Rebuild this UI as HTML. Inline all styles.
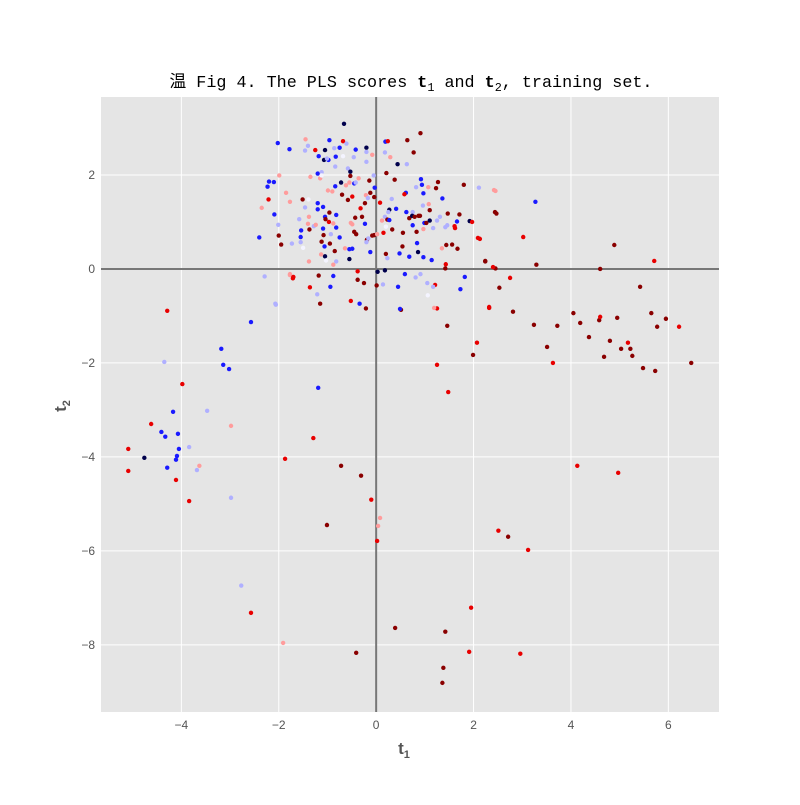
<!DOCTYPE html>
<html><head><meta charset="utf-8"><style>
html,body{margin:0;padding:0;background:#fff}
svg text{font-family:"Liberation Sans","WenQuanYi Zen Hei",sans-serif}
</style></head><body>
<svg id="chart" width="800" height="800" viewBox="0 0 800 800" xmlns="http://www.w3.org/2000/svg">
<text x="411" y="87" text-anchor="middle" font-size="17" fill="#000" style="font-family:'Liberation Mono','WenQuanYi Zen Hei',monospace" textLength="483" lengthAdjust="spacingAndGlyphs">温 Fig 4. The PLS scores <tspan font-weight="bold">t</tspan><tspan font-size="12" dy="4">1</tspan><tspan dy="-4"> and </tspan><tspan font-weight="bold">t</tspan><tspan font-size="12" dy="4">2</tspan><tspan dy="-4">, training set.</tspan></text>
<rect x="101" y="97" width="618" height="615" fill="#e5e5e5"/>
<g id="grid"></g>
<g id="axes0"></g>
<g id="pts"></g>
<g id="ticks"></g>
<text x="404" y="754" text-anchor="middle" font-size="17" font-weight="bold" fill="#555">t<tspan font-size="11" dy="4">1</tspan></text>
<text transform="translate(66,406) rotate(-90)" text-anchor="middle" font-size="17" font-weight="bold" fill="#555">t<tspan font-size="11" dy="4">2</tspan></text>
</svg>
<script>
const xTicks=[-4,-2,0,2,4,6];
const yTicks=[2,0,-2,-4,-6,-8];
const clusterX=[-0.66,-2.02,-1.78,-1.45,-0.96,-0.68,-0.75,-0.86,-0.61,-1.05,-1.25,-1.40,-1.46,-1.18,-1.07,-0.98,-1.01,-0.83,-0.68,-0.42,-0.20,-0.20,0.19,0.24,0.64,0.91,0.77,-0.08,0.18,0.29,0.44,0.63,-0.20,-0.46,-0.84,-0.58,-0.53,-0.53,-1.20,-1.12,-1.15,-1.12,-1.35,-1.99,-2.20,-2.10,-2.23,-0.72,-0.55,-0.62,-0.45,-0.42,-0.36,-0.14,-0.05,0.21,0.38,0.92,1.27,0.82,0.94,1.07,1.23,1.80,2.11,2.45,-0.03,-0.12,-0.04,-0.21,-0.17,-0.23,-0.32,-0.49,-0.58,-0.70,-0.84,-0.90,-0.99,-1.51,-1.39,-1.85,-2.21,-1.77,-2.35,-2.09,-2.01,-2.40,-2.00,-1.95,-1.73,-1.58,-1.54,-1.55,-1.55,-1.50,-1.46,-1.20,-1.09,-1.20,-1.05,-0.96,-1.04,-0.82,-0.82,-0.88,-0.97,-1.38,-1.40,-1.37,-1.28,-1.24,-1.09,-1.08,-1.12,-1.06,-0.93,-0.95,-0.75,-0.85,-1.05,-1.03,-1.13,-1.38,-0.88,-0.82,-0.64,-0.55,-0.49,-0.55,-0.43,-0.29,-0.23,-0.52,-0.49,-0.45,-0.41,-0.19,-0.16,-0.20,-0.08,-0.04,0.02,-0.12,0.08,0.32,0.41,0.27,0.25,0.18,0.23,0.27,0.12,0.20,0.33,0.15,0.55,0.54,0.48,0.20,0.23,0.61,0.58,0.97,1.08,0.96,1.10,0.75,0.62,0.68,0.74,0.79,0.87,0.90,0.99,1.03,1.10,1.25,1.31,1.17,0.97,0.75,0.83,0.84,0.68,0.86,0.97,1.14,1.36,1.47,1.71,1.66,1.92,1.97,1.61,1.62,1.46,1.42,1.44,1.56,1.67,1.35,1.42,1.43,2.13,2.24,2.47,2.45,0.03,0.18,0.59,0.91,0.81,1.21,1.17,1.73,1.82,1.06,0.45,0.14,0.01,-0.38,-0.38,-0.25,-1.18,-0.88,-0.94,-1.36,-1.77,-1.71,-2.29,-1.21,-0.52,-0.34,-1.15,-2.06,-0.21,0.51,1.25,2.32];
const clusterY=[3.09,2.68,2.55,2.76,2.74,2.72,2.58,2.57,2.67,2.53,2.53,2.62,2.52,2.40,2.32,2.32,2.35,2.39,2.40,2.54,2.58,2.49,2.71,2.72,2.74,2.89,2.48,2.43,2.48,2.38,2.23,2.23,2.28,2.38,2.18,2.14,2.07,1.98,2.03,2.06,1.93,1.99,1.96,1.99,1.86,1.85,1.75,1.84,1.84,1.78,1.82,1.84,1.93,1.88,1.99,2.04,1.90,1.91,1.85,1.74,1.79,1.74,1.72,1.79,1.73,1.66,1.73,1.62,1.53,1.57,1.51,1.40,1.29,1.54,1.47,1.58,1.76,1.65,1.67,1.48,1.48,1.62,1.48,1.43,1.30,1.16,0.94,0.67,0.71,0.52,0.54,1.06,0.82,0.68,0.57,0.45,1.31,1.40,1.32,1.27,1.11,1.20,1.06,1.15,0.88,0.97,1.00,1.11,0.96,0.84,0.91,0.94,0.86,0.72,0.58,0.48,0.74,0.54,0.67,0.38,0.27,0.18,0.31,0.16,0.09,0.16,0.44,0.42,0.43,0.21,1.09,1.11,0.96,0.98,0.95,0.79,0.74,0.62,0.65,0.57,0.71,0.72,0.74,0.36,1.41,1.49,1.28,1.26,1.21,1.11,1.05,1.04,1.03,0.90,0.84,0.77,0.77,0.48,0.33,0.32,0.23,1.62,1.59,1.61,1.38,1.35,1.25,1.21,1.21,1.08,1.13,1.11,1.13,1.13,0.98,0.98,1.03,1.03,1.11,0.87,0.85,0.93,0.79,0.55,0.26,0.36,0.25,0.19,1.50,1.18,1.16,1.01,1.02,1.00,0.91,0.87,0.93,0.89,0.51,0.52,0.43,0.44,0.01,0.10,0.64,0.16,1.18,0.01,-0.06,-0.03,-0.11,-0.11,-0.18,-0.34,-0.38,-0.43,-0.17,-0.56,-0.38,-0.33,-0.35,-0.05,-0.23,-0.30,-0.14,-0.15,-0.38,-0.39,-0.13,-0.20,-0.16,-0.54,-0.68,-0.74,-0.74,-0.76,-0.84,-0.87,-0.84,-0.83];
// colour codes: -3 dark blue, -2 blue, -1 light blue, 0 white, 1 pink, 2 red, 3 dark red
const clusterC=[-3,-2,-2,1,-2,2,-2,-1,-1,-3,2,-1,-1,-2,-3,-2,-1,-2,0,-2,-3,-1,-2,2,3,3,3,1,-1,1,-3,-1,-1,-1,-1,-1,-3,3,-2,-1,1,0,1,1,-2,-2,-2,-3,1,1,-2,-1,1,3,-1,3,3,-2,3,-1,-2,1,3,3,-1,1,-2,3,3,1,-1,3,2,2,3,3,-2,1,1,3,0,1,2,1,1,-2,-1,-2,3,3,-1,-1,-2,-2,-1,0,-1,-2,-2,-2,-2,3,3,-2,-2,1,2,1,1,3,-1,1,-2,3,3,-2,-1,3,-2,3,-3,0,1,1,1,-1,1,-2,-2,-3,3,3,-2,1,1,3,3,3,-1,-1,3,3,1,-2,2,-1,-2,-3,-1,-1,3,-2,1,0,3,2,3,3,-2,3,-1,-2,2,-2,1,-1,3,-1,-2,3,-3,3,3,3,-2,3,-3,-1,-1,-1,1,-2,3,-2,-2,-3,-2,-2,-2,3,3,-2,-3,2,2,2,-1,-1,3,3,3,1,3,2,2,3,3,3,-3,-3,-2,-1,-1,2,-1,-2,-2,0,-2,-1,3,2,3,3,3,-2,-2,2,1,2,-1,-1,2,-2,3,-1,3,3,2,2];
const outX=[-4.29,-4.35,-3.18,-3.14,-3.02,-3.98,-4.17,-3.47,-4.62,-4.41,-4.33,-4.07,-3.84,-4.05,-4.09,-4.11,-4.76,-5.09,-5.09,-4.29,-3.63,-3.68,-4.11,-3.84,-2.98,-2.98,-2.77,-2.57,-1.91,-2.57,-2.07,-1.77,-1.70,-1.87,-1.19,-1.29,-0.72,-0.31,-0.10,0.08,0.04,0.02,-1.01,-0.41,0.39,1.42,1.38,1.36,1.95,1.91,2.96,2.51,2.71,3.12,0.49,1.25,1.46,1.48,2.07,1.99,2.32,2.53,2.81,3.24,3.51,3.63,3.72,4.05,4.19,4.37,4.58,4.60,4.68,4.80,4.95,5.03,5.17,5.22,5.26,5.42,5.48,5.65,5.73,5.77,5.95,6.22,6.47,5.71,4.60,4.89,4.13,4.97,3.29,3.27,3.02,2.24,2.40,2.75,2.09,2.44,2.42,1.19,1.05];
const outY=[-0.89,-1.98,-1.70,-2.04,-2.13,-2.45,-3.04,-3.02,-3.30,-3.47,-3.57,-3.51,-3.79,-3.83,-3.98,-4.06,-4.02,-3.83,-4.30,-4.23,-4.19,-4.28,-4.49,-4.94,-3.34,-4.87,-6.74,-7.32,-7.96,-1.13,-0.74,-0.11,-0.17,-4.04,-2.53,-3.60,-4.19,-4.40,-4.91,-5.30,-5.47,-5.79,-5.45,-8.17,-7.64,-7.72,-8.49,-8.81,-7.21,-8.15,-8.19,-5.57,-5.70,-5.98,-0.85,-2.04,-1.21,-2.62,-1.57,-1.83,-0.81,-0.40,-0.91,-1.19,-1.66,-2.00,-1.21,-0.94,-1.15,-1.45,-1.09,-1.02,-1.87,-1.53,-1.04,-1.70,-1.57,-1.70,-1.85,-0.38,-2.11,-0.94,-2.17,-1.23,-1.06,-1.23,-2.00,0.17,0.00,0.51,-4.19,-4.34,0.09,1.43,0.68,0.17,0.04,-0.19,0.66,1.21,1.68,-0.83,-0.30];
const outC=[2,-1,-2,-2,-2,2,-2,-1,2,-2,-2,-2,-1,-2,-2,-2,-3,2,2,-2,1,-1,2,2,1,-1,-1,2,1,-2,-1,1,2,2,-2,2,3,3,2,1,1,2,3,3,3,3,3,3,2,2,2,2,3,2,-2,2,3,2,2,3,2,3,3,3,3,2,3,3,3,3,3,2,3,3,3,3,2,3,3,3,3,3,3,3,3,2,3,2,3,3,2,2,3,-2,2,3,2,2,2,3,1,1,-1];
const palette={"-3":"#00004c","-2":"#1a1aff","-1":"#b0b0ff","0":"#f4f4ff","1":"#ff9c9c","2":"#e80000","3":"#8a0000"};
const X0=101,X1=719,Y0=97,Y1=712,xmin=-5.65,xmax=7.04,ymin=-9.43,ymax=3.66;
const sx=v=>X0+(v-xmin)/(xmax-xmin)*(X1-X0);
const sy=v=>Y1-(v-ymin)/(ymax-ymin)*(Y1-Y0);
const NS="http://www.w3.org/2000/svg";
const grid=document.getElementById('grid'),ticks=document.getElementById('ticks'),ax=document.getElementById('axes0'),pts=document.getElementById('pts');
xTicks.forEach(t=>{
  const l=document.createElementNS(NS,'line');
  
  
  l.setAttribute('x1',sx(t));l.setAttribute('x2',sx(t));l.setAttribute('y1',Y0);l.setAttribute('y2',Y1);
  l.setAttribute('stroke','#fff');l.setAttribute('stroke-width','1');grid.appendChild(l);
  const tx=document.createElementNS(NS,'text');
  
  
  tx.setAttribute('x',sx(t));tx.setAttribute('y',Y1+17);tx.setAttribute('text-anchor','middle');
  tx.setAttribute('font-size','12');tx.setAttribute('fill','#555');
  tx.textContent=(t<0?'\u2212':'')+Math.abs(t);ticks.appendChild(tx);
});
yTicks.forEach(t=>{
  const l=document.createElementNS(NS,'line');
  
  
  l.setAttribute('y1',sy(t));l.setAttribute('y2',sy(t));l.setAttribute('x1',X0);l.setAttribute('x2',X1);
  l.setAttribute('stroke','#fff');l.setAttribute('stroke-width','1');grid.appendChild(l);
  const tx=document.createElementNS(NS,'text');
  
  
  tx.setAttribute('x',X0-6);tx.setAttribute('y',sy(t)+4);tx.setAttribute('text-anchor','end');
  tx.setAttribute('font-size','12');tx.setAttribute('fill','#555');
  tx.textContent=(t<0?'\u2212':'')+Math.abs(t);ticks.appendChild(tx);
});
const vx=document.createElementNS(NS,'line');


vx.setAttribute('x1',sx(0));vx.setAttribute('x2',sx(0));vx.setAttribute('y1',Y0);vx.setAttribute('y2',Y1);
vx.setAttribute('stroke','#777');vx.setAttribute('stroke-width','2');ax.appendChild(vx);
const hz=document.createElementNS(NS,'line');


hz.setAttribute('y1',sy(0));hz.setAttribute('y2',sy(0));hz.setAttribute('x1',X0);hz.setAttribute('x2',X1);
hz.setAttribute('stroke','#777');hz.setAttribute('stroke-width','2');ax.appendChild(hz);
function drawSet(xa,ya,ca){
  const n=Math.min(xa.length,ya.length);
  for(let i=0;i<n;i++){
    const c=document.createElementNS(NS,'circle');
    
    
    c.setAttribute('cx',sx(xa[i]));c.setAttribute('cy',sy(ya[i]));c.setAttribute('r','2.2');
    const code=i<ca.length?ca[i]:2;
    c.setAttribute('fill',palette[String(code)]);pts.appendChild(c);
  }
}
drawSet(clusterX,clusterY,clusterC);
drawSet(outX,outY,outC);
</script>
</body></html>
